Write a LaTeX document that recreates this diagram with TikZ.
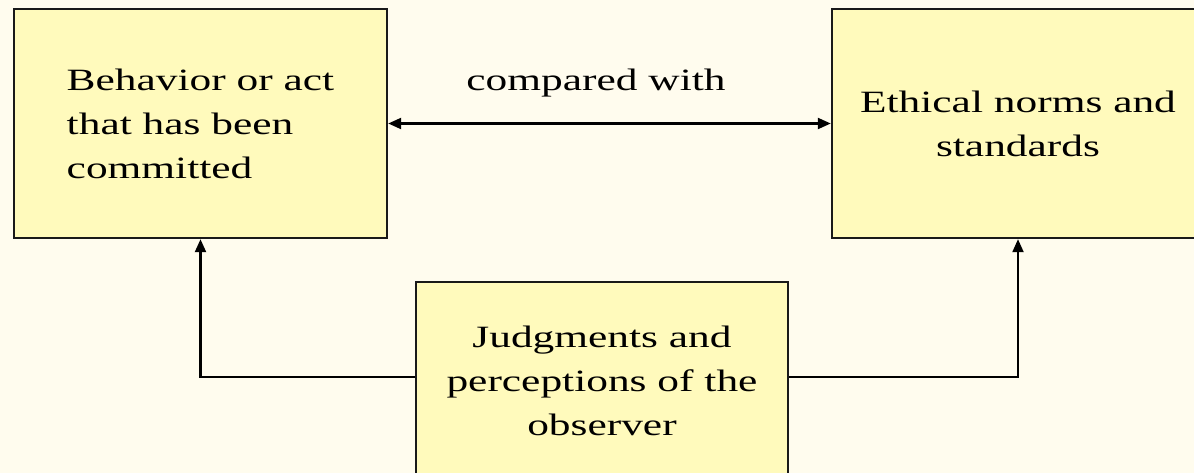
\documentclass[tikz,border=0pt]{standalone}
\usepackage{fontspec}
\setmainfont[FakeStretch=1.40]{Liberation Serif}
\usetikzlibrary{arrows.meta}
\definecolor{bgcol}{RGB}{255,252,238}
\definecolor{boxcol}{RGB}{255,250,188}
\begin{document}
\begin{tikzpicture}[x=1pt,y=-1pt,
  box/.style={draw=black!90,line width=2.4pt,fill=boxcol,inner sep=0pt,font=\fontsize{31}{44}\selectfont},
  arr/.style={line width=2.2pt,-{Triangle[length=13pt,width=11pt]}},
  dblarr/.style={line width=2.2pt,{Triangle[length=13pt,width=11pt]}-{Triangle[length=13pt,width=11pt]}}]
\fill[bgcol] (0,0) rectangle (1194,473);
\useasboundingbox (0,0) rectangle (1194,473);
\node[box,minimum width=373pt,minimum height=229pt,align=left] (behav) at (200.5,123.5)
  {Behavior or act\\that has been\\committed};
\node[box,minimum width=372pt,minimum height=229pt,align=center,text depth=0pt] (ethic) at (1018,123.5)
  {Ethical norms and\\standards};
\node[box,minimum width=372pt,minimum height=198pt,align=center] (judge) at (602,381)
  {Judgments and\\perceptions of the\\observer};
\node[font=\fontsize{31}{44}\selectfont,anchor=base,inner sep=0pt] (cmp) at (596,91) {compared with};
\draw[dblarr] (behav) -- (ethic);
\draw[arr] ([yshift=4pt]judge.west) -| (behav.south);
\draw[arr] ([yshift=4pt]judge.east) -| (ethic.south);
\end{tikzpicture}
\end{document}
